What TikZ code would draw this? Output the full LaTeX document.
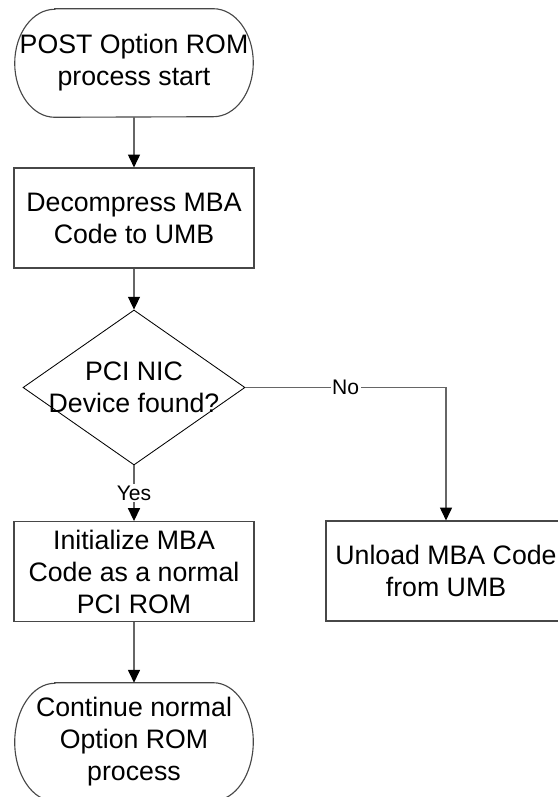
\documentclass[tikz,border=0pt]{standalone}
\usepackage{fontspec}
\setmainfont{Liberation Sans}
\usepackage{tikz}
\usetikzlibrary{shapes.geometric,arrows.meta}
\tikzset{>={Triangle[width=3mm,length=3.2mm,color=black]}}
\colorlet{linecol}{black!60}
\colorlet{boxcol}{black!72}
\tikzstyle{process}=[draw=boxcol,line width=0.8pt,minimum width=6cm,minimum height=2.5cm,align=center,inner sep=0pt]
\tikzstyle{decision}=[draw=black,line width=0.6pt,diamond,minimum width=5.55cm,minimum height=3.875cm,inner sep=0pt]
\tikzstyle{terminal}=[minimum width=5.95cm,minimum height=2.7cm,align=center,inner sep=0pt]
\tikzstyle{flow}=[->,line width=0.8pt,linecol]
\tikzstyle{answer}=[fill=white,inner sep=1pt,text=black,font=\fontsize{15}{17}\selectfont]
% outline of a start/stop box with elliptic ends
\newcommand\termframe[3]{%
  \draw[boxcol,line width=0.8pt]
    ([xshift=#2]#1.north west) -- ([xshift=-#2]#1.north east)
    arc[start angle=90,end angle=-90,x radius=#2,y radius=#3]
    -- ([xshift=#2]#1.south west)
    arc[start angle=270,end angle=90,x radius=#2,y radius=#3] -- cycle;}

\begin{document}
\begin{tikzpicture}[font=\fontsize{19}{22.8}\selectfont]
  \useasboundingbox (0,0) rectangle (13.95,-19.925);

  % START / STOP
  \node[terminal] (start) at (3.35,-1.575) {POST Option ROM\\process start};
  \termframe{start}{1.0cm}{1.35cm}
  \node[terminal,minimum height=2.95cm] (finish) at (3.35,-18.55)
    {Continue normal\\Option ROM\\process};
  \termframe{finish}{1.0cm}{1.475cm}

  % STEPS
  \node[process] (decomp) at (3.35,-5.45) {Decompress MBA\\Code to UMB};
  \node[process] (init) at (3.35,-14.29) {Initialize MBA\\Code as a normal\\PCI ROM};
  \node[process] (unload) at (11.15,-14.275) {Unload MBA Code\\from UMB};

  % TEST
  \node[decision] (pci) at (3.35,-9.6875) {};
  \node[align=center,inner sep=0pt] (pcitext) at (pci.center) {PCI NIC\\Device found?};

  % ARROWS
  \draw[flow] (start) -- (decomp);
  \draw[flow] (decomp) -- (pci.north);
  \draw[flow] (pci.south) -- node[answer] (yes) {Yes} (init.north);
  \draw[flow] (pci.east) -- node[answer] (no) {No} (pci.east -| unload.north) -- (unload.north);
  \draw[flow] (init) -- (finish);

\end{tikzpicture}
\end{document}
